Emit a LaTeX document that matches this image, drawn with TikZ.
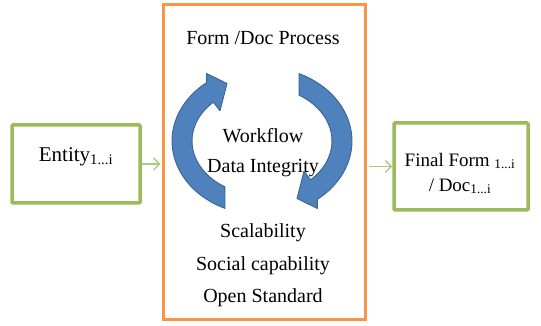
\documentclass[tikz,border=0pt]{standalone}
\usepackage{fontspec}
\setmainfont{Liberation Serif}
\usetikzlibrary{arrows.meta}
\begin{document}
\begin{tikzpicture}[x=1pt,y=1pt,
  greenbox/.style={draw=boxgreen,line width=3.5pt,rounded corners=1pt,fill=white,
    font=\fontsize{19}{25}\selectfont,align=center},
  flowarrow/.style={draw=arrowgreen,line width=1.3pt,-{Straight Barb[length=6pt,width=12pt]}},
  proctext/.style={font=\fontsize{20}{24}\selectfont,inner sep=0pt},
  cyclearrow/.style={fill=cycleblue,draw=cycleedge,line width=0.9pt,line join=round}]
  \definecolor{boxgreen}{HTML}{9BBB59}
  \definecolor{arrowgreen}{HTML}{A9CB7E}
  \definecolor{procorange}{HTML}{F79646}
  \definecolor{cycleblue}{HTML}{4F81BD}
  \definecolor{cycleedge}{HTML}{3A6494}
  \useasboundingbox (0,0) rectangle (541,326);
  \node [draw=procorange,line width=3pt,minimum width=202pt,minimum height=315pt] (proc) at (264,163.5) {};
  \node [greenbox,minimum width=128pt,minimum height=78pt,font=\fontsize{21}{25}\selectfont,
    text height=14pt,text depth=19pt] (entity) at (76,162) {Entity\textsubscript{1...i}};
  \node [greenbox,minimum width=134pt,minimum height=87pt,
    label={[font=\fontsize{19}{25}\selectfont,align=center,xshift=-1pt,yshift=-7pt]center:Final Form \textsubscript{1...i}\\/ Doc\textsubscript{1...i}}]
    (final) at (461,159.5) {};
  \fill [cyclearrow] (225,117.6) arc [start angle=245.7,end angle=128,x radius=90pt,y radius=74pt]
    -- (206.6,252.5) -- (227,242.5) -- (220,215.2) -- (213.4,223.8)
    arc [start angle=134,end angle=238,x radius=70pt,y radius=54pt] -- cycle;
  \fill [cyclearrow] (299,252.4) arc [start angle=65.7,end angle=-52,x radius=90pt,y radius=74pt]
    -- (317.4,117.5) -- (297,127.5) -- (304,154.8) -- (310.6,146.2)
    arc [start angle=-46,end angle=58,x radius=70pt,y radius=54pt] -- cycle;
  \node [proctext] (title) at (263,288) {Form /Doc Process};
  \node [proctext] (workflow) at (263,190) {Workflow};
  \node [proctext] (integrity) at (263,158) {Data Integrity};
  \node [proctext] (scal) at (263,93) {Scalability};
  \node [proctext] (social) at (263,60) {Social capability};
  \node [proctext] (openstd) at (263,28) {Open Standard};
  \draw [flowarrow,shorten >=1pt] (entity.east) -- (entity.east -| proc.west);
  \draw [flowarrow,shorten <=2pt] (proc.east |- final.west) -- (final.west);
\end{tikzpicture}
\end{document}
